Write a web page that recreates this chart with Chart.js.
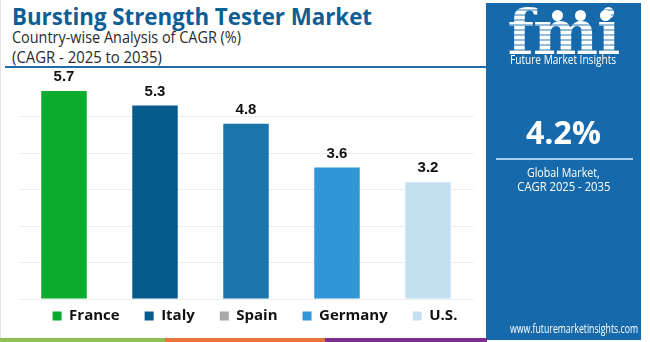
<!DOCTYPE html>
<html><head><meta charset="utf-8">
<script src="https://cdn.jsdelivr.net/npm/chart.js@4.4.0/dist/chart.umd.min.js"></script>
<style>
html,body{margin:0;padding:0;width:650px;height:342px;overflow:hidden;background:#fff;font-family:"Open Sans",sans-serif;}
#frame{position:absolute;left:0;top:0;width:650px;height:342px;overflow:hidden;}
.t{position:absolute;white-space:nowrap;transform-origin:0 50%;}
#title{left:12px;top:1px;font:700 24px "Open Sans";color:#0f5d95;line-height:30px;}
#sub1{left:12px;top:27px;font:400 15.5px "Open Sans";color:#2a2a2a;line-height:20px;}
#sub2{left:12px;top:47px;font:400 15.5px "Open Sans";color:#2a2a2a;line-height:20px;}
#hline{position:absolute;left:5px;top:66px;width:482px;height:2px;background:#1d6fab;}
#chartWrap{position:absolute;left:0;top:68px;width:560px;height:281px;}
#panel{position:absolute;left:486px;top:3px;width:155px;height:337px;background:#166aab;z-index:5;overflow:hidden;}
.pc{position:absolute;left:0;width:155px;text-align:center;color:#fff;white-space:nowrap;}
.pc span{display:inline-block;transform-origin:50% 50%;}
#logo{top:-2px;font:700 62px "DejaVu Serif";letter-spacing:-1px;line-height:64px;}
#logo span{background:repeating-linear-gradient(to bottom,#ffffff 0 3px,rgba(255,255,255,0.55) 3px 5px);
 -webkit-background-clip:text;background-clip:text;color:transparent;}
#fmiName{top:50px;font:400 12px "Open Sans";line-height:14px;}
#big{top:109px;font:700 33px "Open Sans";line-height:40px;}
#pline{position:absolute;left:10px;top:155px;width:137px;height:2px;background:#a9cfee;}
#g1{top:161px;font:400 13px "Open Sans";line-height:16px;}
#g2{top:175px;font:400 13px "Open Sans";line-height:16px;}
#url{top:318px;font:400 12px "Open Sans";line-height:16px;}
.dot{position:absolute;width:11px;height:11px;border-radius:50%;background:#fff;}
#stripes{position:absolute;left:0;top:338px;height:4px;width:487px;z-index:6;}
#stripes div{position:absolute;top:0;height:4px;}
#lborder{position:absolute;left:0;top:0;width:1px;height:342px;background:#e2e2e2;}
</style></head>
<body><div id="frame">
<div id="lborder"></div>
<div id="title" class="t">Bursting Strength Tester Market</div>
<div id="sub1" class="t">Country-wise Analysis of CAGR (%)</div>
<div id="sub2" class="t">(CAGR - 2025 to 2035)</div>
<div id="hline"></div>
<div id="chartWrap"><canvas id="c" width="560" height="281"></canvas></div>
<div id="panel">
  <div class="pc" id="logo"><span id="logoS">fmi</span></div>
  <div class="dot" style="left:66px;top:7px"></div>
  <div class="dot" style="left:89px;top:7px"></div>
  <div class="dot" style="left:114px;top:7px"></div>
  <div class="pc" id="fmiName"><span id="fmiS">Future Market Insights</span></div>
  <div class="pc" id="big"><span id="bigS">4.2%</span></div>
  <div id="pline"></div>
  <div class="pc" id="g1"><span id="g1S">Global Market,</span></div>
  <div class="pc" id="g2"><span id="g2S">CAGR 2025 - 2035</span></div>
  <div class="pc" id="url"><span id="urlS">www.futuremarketinsights.com</span></div>
</div>
<div id="stripes">
  <div style="left:0;width:165px;background:#8dbf57"></div>
  <div style="left:165px;width:160px;background:#e8723b"></div>
  <div style="left:325px;width:162px;background:#7d2f8f"></div>
</div>
</div>
<script>
// ---- data ----
const categories = ['France', 'Italy', 'Spain', 'Germany', 'U.S.'];
const cagrValues = [5.7, 5.3, 4.8, 3.6, 3.2];
const barColors = ['#0aab2e', '#065a8e', '#1b74ad', '#3196d5', '#c3e0f2'];
const legendColors = ['#0aab2e', '#065a8e', '#a8a8a8', '#3196d5', '#c3e0f2'];
const yAxisMax = 6;

// fit text widths to the reference
function fitW(id, w){ const el=document.getElementById(id); const r=el.getBoundingClientRect().width; el.style.transform='scaleX('+(w/r)+')'; }
fitW('title', 360); fitW('sub1', 229); fitW('sub2', 150);
fitW('logoS', 112); fitW('fmiS', 106); fitW('bigS', 75); fitW('g1S', 73); fitW('g2S', 93); fitW('urlS', 128);

const valueLabels = {
  id: 'valueLabels',
  afterDatasetsDraw(chart) {
    const ctx = chart.ctx, meta = chart.getDatasetMeta(0);
    ctx.save();
    ctx.font = '700 15px "Liberation Sans", Arial, sans-serif';
    ctx.fillStyle = '#111';
    ctx.textAlign = 'center';
    ctx.textBaseline = 'alphabetic';
    meta.data.forEach((bar, i) => ctx.fillText(cagrValues[i].toFixed(1), bar.x, bar.y - 10));
    ctx.restore();
  }
};
const legendPlace = {
  id: 'legendPlace',
  afterLayout(chart) {
    const lg = chart.legend; const dy = 15.5, dx = 25;
    lg.top -= dy; lg.bottom -= dy; lg.left -= dx; lg.right -= dx;
  }
};

new Chart(document.getElementById('c'), {
  type: 'bar',
  data: { labels: categories, datasets: [{ data: cagrValues, backgroundColor: barColors, borderWidth: 0, barPercentage: 0.5, categoryPercentage: 1.0 }] },
  options: {
    responsive: false, animation: false, devicePixelRatio: 1,
    layout: { padding: { top: 12, left: 0, right: 0, bottom: 0 } },
    scales: {
      x: { display: false },
      y: {
        min: 0, max: yAxisMax,
        ticks: { display: false, stepSize: 1 },
        border: { display: false },
        grid: { drawTicks: false, color: c => c.tick.value === yAxisMax ? 'rgba(0,0,0,0)' : '#ececec' },
        afterFit(s) { s.width = 18.5; }
      },
      yR: {
        type: 'linear', position: 'right', display: true,
        ticks: { display: false }, border: { display: false }, grid: { display: false, drawTicks: false },
        afterFit(s) { s.width = 560 - 473.5; }
      }
    },
    plugins: {
      tooltip: { enabled: false },
      legend: {
        position: 'bottom', onClick: null,
        labels: {
          padding: 25, boxWidth: 9, boxHeight: 9, color: '#111',
          font: { family: '"Open Sans"', weight: '700', size: 15 },
          generateLabels: () => categories.map((c, i) => ({ text: c, fillStyle: legendColors[i], strokeStyle: legendColors[i], lineWidth: 0, hidden: false, index: i, fontColor: '#111' }))
        }
      }
    }
  },
  plugins: [valueLabels, legendPlace]
});
</script>
</body></html>
